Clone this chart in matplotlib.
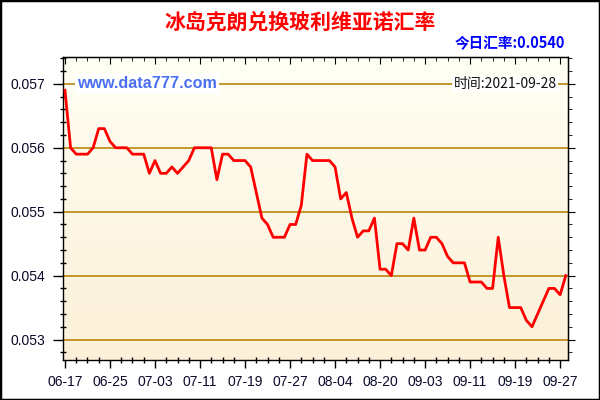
import numpy as np
import matplotlib.pyplot as plt
from matplotlib.patches import Rectangle
from matplotlib.ticker import MultipleLocator
from matplotlib.colors import LinearSegmentedColormap

plt.rcParams['font.family'] = ['Liberation Sans', 'Noto Sans CJK SC', 'DejaVu Sans']

# 每日汇率 (06-17 ... 09-28)
rates = [
    0.0569, 0.0560, 0.0559, 0.0559, 0.0559, 0.0560, 0.0563, 0.0563, 0.0561, 0.0560,
    0.0560, 0.0560, 0.0559, 0.0559, 0.0559, 0.0556, 0.0558, 0.0556, 0.0556, 0.0557,
    0.0556, 0.0557, 0.0558, 0.0560, 0.0560, 0.0560, 0.0560, 0.0555, 0.0559, 0.0559,
    0.0558, 0.0558, 0.0558, 0.0557, 0.0553, 0.0549, 0.0548, 0.0546, 0.0546, 0.0546,
    0.0548, 0.0548, 0.0551, 0.0559, 0.0558, 0.0558, 0.0558, 0.0558, 0.0557, 0.0552,
    0.0553, 0.0549, 0.0546, 0.0547, 0.0547, 0.0549, 0.0541, 0.0541, 0.0540, 0.0545,
    0.0545, 0.0544, 0.0549, 0.0544, 0.0544, 0.0546, 0.0546, 0.0545, 0.0543, 0.0542,
    0.0542, 0.0542, 0.0539, 0.0539, 0.0539, 0.0538, 0.0538, 0.0546, 0.0540, 0.0535,
    0.0535, 0.0535, 0.0533, 0.0532, 0.0534, 0.0536, 0.0538, 0.0538, 0.0537, 0.0540,
]
tick_labels = ['06-17', '06-25', '07-03', '07-11', '07-19', '07-27',
               '08-04', '08-20', '09-03', '09-11', '09-19', '09-27']
y_ticks = [0.053, 0.054, 0.055, 0.056, 0.057]

title = '冰岛克朗兑换玻利维亚诺汇率'
today_rate = '0.0540'
update_date = '2021-09-28'
site = 'www.data777.com'

fig = plt.figure(figsize=(6, 4), dpi=100)
fig.patch.set_facecolor('white')
ax = fig.add_axes([63 / 600, 40 / 400, 505 / 600, 303 / 400])

# 背景渐变
bg = LinearSegmentedColormap.from_list('bg', ['#FFFFF4', '#FCF0D8'])
ax.imshow(np.linspace(0, 1, 256).reshape(-1, 1), extent=[0, 1, 0, 1],
          transform=ax.transAxes, cmap=bg, aspect='auto', zorder=0)

x = np.arange(len(rates))
for v in y_ticks:
    ax.axhline(v, color='#B8860B', lw=1.2, zorder=1)
ax.plot(x, rates, color='#FF0000', lw=2.0, zorder=3)

ax.set_xlim(-0.35, 89.4)
ax.set_ylim(0.05268, 0.05742)

ax.set_xticks(np.arange(0, len(tick_labels) * 8, 8))
ax.set_xticklabels(tick_labels)
ax.xaxis.set_minor_locator(MultipleLocator(2))
ax.set_yticks(y_ticks)
ax.set_yticklabels([f'{v:.3f}' for v in y_ticks])
ax.yaxis.set_minor_locator(MultipleLocator(0.0002))

ax.tick_params(which='major', direction='out', length=5, width=1, labelsize=10,
               labelcolor='#0a0a2a', pad=4)
ax.tick_params(which='minor', direction='inout', length=5, width=1)
ax.tick_params(axis='y', which='major', length=7, pad=6)
ax.tick_params(axis='x', which='major', length=6, pad=5)

for s in ax.spines.values():
    s.set_color('black')
    s.set_linewidth(1)

secx = ax.secondary_xaxis('top')
secx.set_xticks(np.arange(0, 96, 8))
secx.xaxis.set_minor_locator(MultipleLocator(2))
secx.tick_params(which='both', direction='in', labeltop=False)
secx.tick_params(which='major', length=5)
secx.tick_params(which='minor', length=3)

secy = ax.secondary_yaxis('right')
secy.set_yticks(y_ticks)
secy.yaxis.set_minor_locator(MultipleLocator(0.0002))
secy.tick_params(which='both', direction='out', labelright=False)
secy.tick_params(which='major', length=5)
secy.tick_params(which='minor', length=3)

fig.text(0.5, 1 - 22 / 400, title, ha='center', va='center', fontsize=15,
         fontweight='bold', color='#FF0000', family=['Noto Sans CJK SC'])
fig.text(565 / 600, 1 - 43 / 400, '今日汇率:' + today_rate, ha='right', va='center',
         fontsize=10.5, fontweight='bold', color='#0000FF',
         family=['Noto Sans CJK SC'])
fig.text(77 / 600, 1 - 84 / 400, site, ha='left', va='center', fontsize=11.6,
         fontweight='bold', color='#4A6FF0', zorder=5,
         bbox=dict(facecolor='white', edgecolor='none', pad=1.5))
fig.text(557 / 600, 1 - 84 / 400, '时间:' + update_date, ha='right', va='center',
         fontsize=10, color='#111111', family=['Noto Sans CJK SC'], zorder=5,
         bbox=dict(facecolor='white', edgecolor='none', pad=1))

# 外框
fig.patches.append(Rectangle((0, 0), 1, 1, transform=fig.transFigure, fill=False,
                             edgecolor='black', lw=2.5))

fig.savefig('out.png', dpi=100)
